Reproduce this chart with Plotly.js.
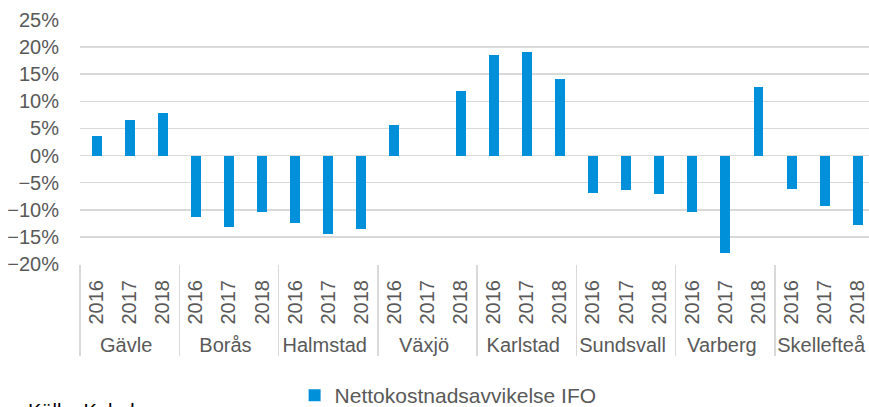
<!DOCTYPE html>
<html>
<head>
<meta charset="utf-8">
<script src="https://cdn.plot.ly/plotly-3.0.1.min.js"></script>
<style>html,body{margin:0;padding:0;background:#fff;overflow:hidden}#chart{width:869px;height:407px}</style>
</head>
<body>
<div id="chart"></div>
<script>
var cities = ["Gävle","Borås","Halmstad","Växjö","Karlstad","Sundsvall","Varberg","Skellefteå"];
var years = ["2016","2017","2018"];
var values = [
  3.6, 6.5, 7.9,
  -11.4, -13.2, -10.4,
  -12.5, -14.5, -13.6,
  5.7, 0, 11.9,
  18.6, 19.1, 14.2,
  -6.9, -6.3, -7.1,
  -10.4, -17.9, 12.7,
  -6.1, -9.3, -12.8
];
var seriesName = "Nettokostnadsavvikelse IFO";
var sourceText = "Källa: Kolada";

var xCity = [], xYear = [], yVal = [];
cities.forEach(function(c, i){
  years.forEach(function(yr, j){
    xCity.push(c); xYear.push(yr); yVal.push(values[i*3+j] / 100);
  });
});

var trace = {
  type: "bar",
  x: [xCity, xYear],
  y: yVal,
  name: seriesName,
  marker: {color: "#0090d9"},
  width: 0.3,
  showlegend: true
};

var font = {family: "Liberation Sans, Arial, sans-serif", size: 20, color: "#595959"};

var layout = {
  width: 869, height: 407,
  margin: {l: 80, r: 0, t: 20, b: 143, autoexpand: false},
  paper_bgcolor: "#fff", plot_bgcolor: "#fff",
  font: font,
  showlegend: true,
  bargap: 0,
  xaxis: {
    type: "multicategory",
    automargin: false,
    range: [-0.5, 23.34],
    showgrid: false,
    zeroline: false,
    showline: false,
    ticks: "",
    tickangle: -90,
    ticklabelstandoff: 11,
    tickfont: font,
    showdividers: true,
    dividercolor: "#d9d9d9",
    dividerwidth: 1.5
  },
  yaxis: {
    automargin: false,
    range: [-0.2, 0.25],
    dtick: 0.05,
    tick0: 0,
    tickformat: ".0%",
    showgrid: true,
    gridcolor: "#d9d9d9",
    gridwidth: 1.5,
    zeroline: true,
    zerolinecolor: "#d9d9d9",
    zerolinewidth: 1.5,
    showline: false,
    ticks: "",
    ticklabelstandoff: 20,
    tickfont: font
  },
  legend: {
    orientation: "h",
    x: 0.272, xanchor: "left",
    y: -0.455, yanchor: "top",
    font: {family: "Liberation Sans, Arial, sans-serif", size: 21, color: "#595959"},
    bgcolor: "rgba(0,0,0,0)"
  },
  annotations: [{
    text: sourceText,
    xref: "paper", yref: "paper",
    x: -0.068, y: -0.55,
    xanchor: "left", yanchor: "top",
    showarrow: false,
    font: {family: "Liberation Sans, Arial, sans-serif", size: 20, color: "#000"}
  }]
};

Plotly.newPlot("chart", [trace], layout, {displayModeBar: false, staticPlot: true});
</script>
</body>
</html>
